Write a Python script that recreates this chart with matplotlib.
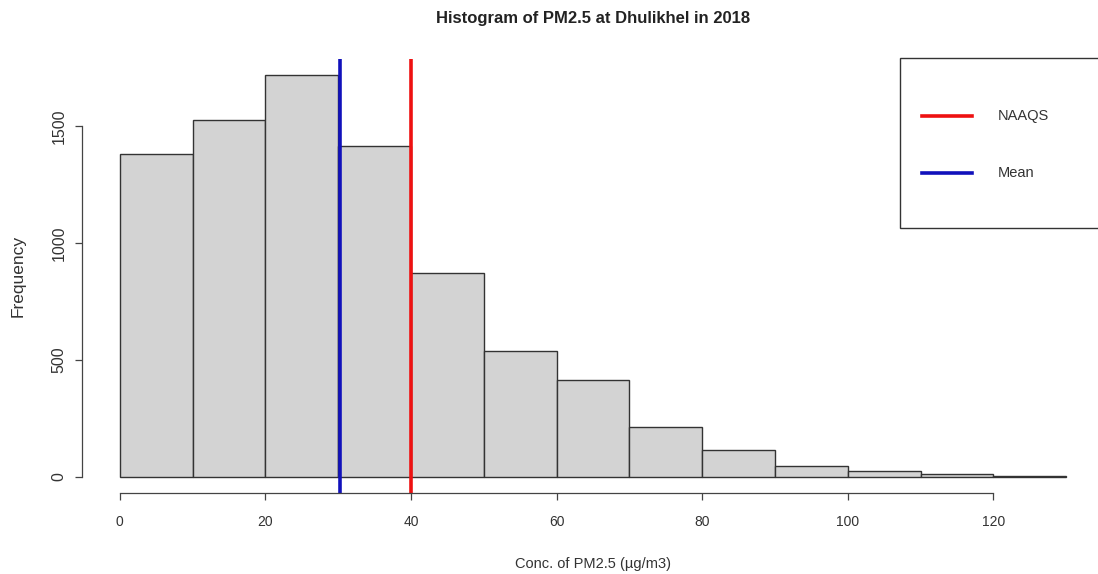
import matplotlib
matplotlib.use("Agg")
import matplotlib.pyplot as plt
from matplotlib.patches import Rectangle
from matplotlib.lines import Line2D
import numpy as np

plt.rcParams['font.family'] = ['Liberation Sans', 'DejaVu Sans']

# Data
bin_edges = [0, 10, 20, 30, 40, 50, 60, 70, 80, 90, 100, 110, 120, 130]
counts = [1380, 1526, 1718, 1413, 870, 538, 415, 214, 115, 47, 24, 12, 4]
mean_value = 30.3
naaqs_value = 40
x_ticks = [0, 20, 40, 60, 80, 100, 120]
y_ticks = [0, 500, 1000, 1500]
legend_labels = ["NAAQS", "Mean"]
legend_colors = ["#ee1111", "#1111bb"]

W, H = 1098, 574
fig = plt.figure(figsize=(W / 100, H / 100), dpi=100)
ax = fig.add_axes([82 / W, (H - 493) / H, (1104 - 82) / W, (493 - 59) / H])

lefts = np.array(bin_edges[:-1])
widths = np.diff(bin_edges)
ax.bar(lefts, counts, width=widths, align='edge', facecolor='#d3d3d3',
       edgecolor='#333333', linewidth=1.0)

ax.axvline(naaqs_value, color=legend_colors[0], linewidth=2.6)
ax.axvline(mean_value, color=legend_colors[1], linewidth=2.6)

ax.set_xlim(-5.2, 135.2)
ax.set_ylim(-68.7, 1786.7)

for s in ['top', 'right']:
    ax.spines[s].set_visible(False)
ax.spines['left'].set_bounds(0, 1500)
ax.spines['bottom'].set_bounds(0, 120)
for s in ['left', 'bottom']:
    ax.spines[s].set_color('#444444')
    ax.spines[s].set_linewidth(0.9)

ax.set_xticks(x_ticks)
ax.set_yticks(y_ticks)
ax.tick_params(axis='both', direction='out', length=5, width=0.9,
               color='#444444', labelcolor='#333333')
ax.tick_params(axis='x', pad=11, labelsize=10)
ax.tick_params(axis='y', pad=6, labelrotation=90, labelsize=11.5)
for lab in ax.get_yticklabels():
    lab.set_verticalalignment('center')

ax.set_xlabel("Conc. of PM2.5 (µg/m3)", fontsize=10.5, color='#333333', labelpad=20)
ax.set_ylabel("Frequency", fontsize=12.5, color='#333333', labelpad=19)
fig.text(593 / W, 1 - 18 / H, "Histogram of PM2.5 at Dhulikhel in 2018",
         ha='center', va='center', fontsize=12, fontweight='bold', color='#222222')

# Legend box (R-style)
fig.patches.append(Rectangle((900 / W, 1 - 228 / H), 210 / W, 170 / H,
                             transform=fig.transFigure, facecolor='white',
                             edgecolor='#333333', linewidth=1.0, zorder=5))
ys = [116, 173]
for lab, col, yy in zip(legend_labels, legend_colors, ys):
    fig.lines.append(Line2D([922 / W, 972 / W], [1 - yy / H, 1 - yy / H],
                            transform=fig.transFigure, color=col, linewidth=2.6, zorder=6))
    fig.text(998 / W, 1 - yy / H, lab, ha='left', va='center', fontsize=10.5,
             color='#333333', zorder=6)

fig.savefig("out.png", dpi=100)
